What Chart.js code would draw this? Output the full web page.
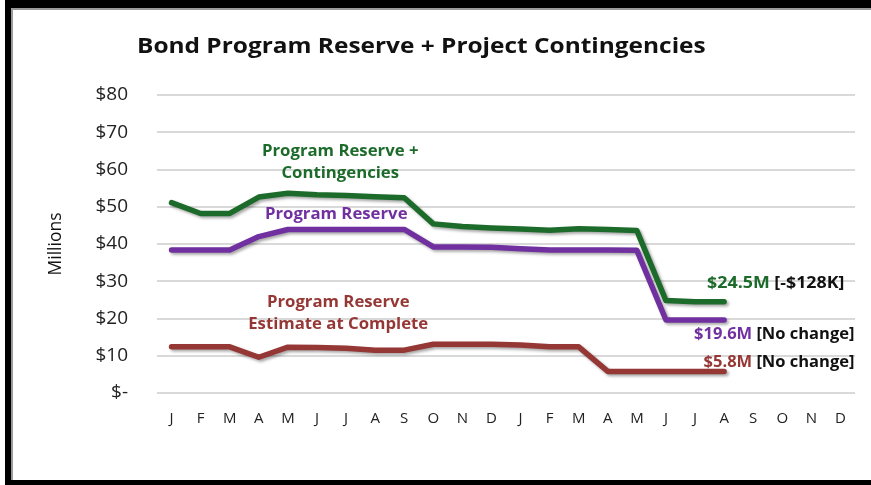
<!DOCTYPE html>
<html>
<head>
<meta charset="utf-8">
<script src="https://cdn.jsdelivr.net/npm/chart.js@4"></script>
<style>
  html, body { margin: 0; padding: 0; background: #fff; overflow: hidden; }
  #wrap { position: relative; width: 871px; height: 485px; }
  #myChart { display: block; }
  #frame {
    position: absolute; left: 5px; top: 0; width: 866px; height: 485px;
    box-sizing: border-box; pointer-events: none;
    border-left: 6px solid #000; border-top: 8px solid #000; border-bottom: 5px solid #000;
    box-shadow: inset 2px 2px 0 #9a9a9a;
  }
</style>
</head>
<body>
<div id="wrap">
  <canvas id="myChart" width="871" height="485"></canvas>
  <div id="frame"></div>
</div>
<script>
const months = ['J','F','M','A','M','J','J','A','S','O','N','D',
                'J','F','M','A','M','J','J','A','S','O','N','D'];

// millions of dollars, by month (last four months have no data yet)
const reservePlusContingencies = [51.1, 48.2, 48.2, 52.6, 53.6, 53.2, 53.0, 52.7, 52.4, 45.4, 44.7, 44.3,
                                  44.0, 43.7, 44.1, 43.9, 43.6, 24.8, 24.5, 24.5];
const programReserve = [38.4, 38.4, 38.4, 42.0, 43.9, 43.9, 43.9, 43.9, 43.9, 39.2, 39.2, 39.1,
                        38.7, 38.4, 38.4, 38.4, 38.3, 19.6, 19.6, 19.6];
const reserveEstimateAtComplete = [12.4, 12.4, 12.4, 9.6, 12.3, 12.2, 12.0, 11.5, 11.5, 13.1, 13.1, 13.1,
                                   12.9, 12.4, 12.4, 5.8, 5.8, 5.8, 5.8, 5.8];

const titleText = 'Bond Program Reserve + Project Contingencies';
const yTitle = 'Millions';

const green = '#1c6b2b';
const purple = '#7030a0';
const red = '#953735';
const FONT = '"Open Sans", Lato, sans-serif';

const ctx = document.getElementById('myChart');

const shadowPlugin = {
  id: 'lineShadow',
  beforeDatasetsDraw(chart) {
    const c = chart.ctx;
    c.save();
    c.shadowColor = 'rgba(0,0,0,0.35)';
    c.shadowBlur = 3;
    c.shadowOffsetX = 2;
    c.shadowOffsetY = 2;
  },
  afterDatasetsDraw(chart) {
    chart.ctx.restore();
  },
};

// parts: [[text, color], ...] drawn on one line, k = horizontal stretch
function drawParts(c, parts, x, y, align, k) {
  let total = 0;
  parts.forEach((p) => { total += c.measureText(p[0]).width * k; });
  let start = align === 'right' ? x - total : (align === 'center' ? x - total / 2 : x);
  parts.forEach((p) => {
    c.save();
    c.translate(start, y);
    c.scale(k, 1);
    c.fillStyle = p[1];
    c.textAlign = 'left';
    c.fillText(p[0], 0, 0);
    c.restore();
    start += c.measureText(p[0]).width * k;
  });
}

const textPlugin = {
  id: 'texts',
  afterDraw(chart) {
    const c = chart.ctx;
    const xs = chart.scales.x;
    const ys = chart.scales.y;
    c.save();
    c.textBaseline = 'middle';

    c.font = 'bold 22px ' + FONT;
    drawParts(c, [[titleText, '#111']], 137, 47, 'left', 1.11);

    c.font = 'bold 15.5px ' + FONT;
    const mid = xs.getPixelForValue(5.8);
    drawParts(c, [['Program Reserve +', green]], mid, ys.getPixelForValue(64.7), 'center', 1.08);
    drawParts(c, [['Contingencies', green]], mid, ys.getPixelForValue(59.0), 'center', 1.08);
    drawParts(c, [['Program Reserve', purple]], mid - 4, ys.getPixelForValue(47.8), 'center', 1.08);
    drawParts(c, [['Program Reserve', red]], mid - 2, ys.getPixelForValue(24.2), 'center', 1.08);
    drawParts(c, [['Estimate at Complete', red]], mid - 2, ys.getPixelForValue(18.3), 'center', 1.08);

    c.font = 'bold 16.5px ' + FONT;
    const endX = xs.getPixelForValue(23) + 14;
    drawParts(c, [['$24.5M ', green], ['[-$128K]', '#111']], endX - 10, ys.getPixelForValue(29.4), 'right', 1.08);
    drawParts(c, [['$19.6M ', purple], ['[No change]', '#111']], endX, ys.getPixelForValue(15.8), 'right', 1.0);
    drawParts(c, [['$5.8M ', red], ['[No change]', '#111']], endX, ys.getPixelForValue(8.3), 'right', 1.0);
    c.restore();
  },
};

const myChart = new Chart(ctx, {
  type: 'line',
  plugins: [shadowPlugin, textPlugin],
  data: {
    labels: months,
    datasets: [
      { label: 'Program Reserve + Contingencies', data: reservePlusContingencies, borderColor: green },
      { label: 'Program Reserve', data: programReserve, borderColor: purple },
      { label: 'Program Reserve Estimate at Complete', data: reserveEstimateAtComplete, borderColor: red },
    ],
  },
  options: {
    responsive: false,
    animation: false,
    layout: {
      padding: { left: 46, right: 16, top: 95, bottom: 52 },
    },
    elements: {
      point: { radius: 0 },
      line: { borderWidth: 5.5, tension: 0, borderCapStyle: 'round', borderJoinStyle: 'round' },
    },
    scales: {
      x: {
        offset: true,
        grid: { display: false, drawTicks: false },
        border: { display: false },
        ticks: {
          autoSkip: false,
          maxRotation: 0,
          padding: 17,
          color: '#222',
          font: { family: FONT, size: 15 },
        },
        afterFit(scale) { scale.height = 40; },
      },
      y: {
        min: 0,
        max: 80,
        grid: { color: '#d9d9d9', lineWidth: 2, drawTicks: false },
        border: { display: false },
        ticks: {
          stepSize: 10,
          padding: 29,
          color: '#222',
          font: { family: FONT, size: 19 },
          callback: (v) => (v === 0 ? '$-' : '$' + v),
        },
        title: {
          display: true,
          text: yTitle,
          color: '#111',
          padding: 0,
          font: { family: FONT, size: 17.5 },
        },
        afterFit(scale) { scale.width = 111; },
      },
    },
    plugins: {
      legend: { display: false },
      tooltip: { enabled: false },
    },
  },
});
</script>
</body>
</html>
